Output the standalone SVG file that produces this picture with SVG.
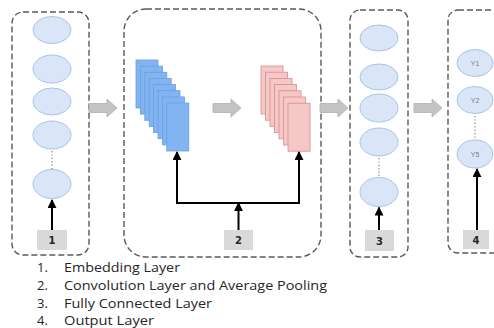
<svg xmlns="http://www.w3.org/2000/svg" width="494" height="328" viewBox="0 0 494 328">
<defs>
<style>
.box{fill:none;stroke:#595959;stroke-width:1.4;stroke-dasharray:6 3}
.node{fill:#dae6f8;stroke:#a7c2ea;stroke-width:1}
.dots{stroke:#7f7f7f;stroke-width:1.2;stroke-dasharray:1.2 2.2}
.lbl{fill:#d9d9d9}
.lt{font-family:"DejaVu Sans",sans-serif;font-size:10px;font-weight:bold;fill:#262626;text-anchor:middle}
.yt{font-family:"Liberation Sans",sans-serif;font-size:7px;fill:#7f7f7f;text-anchor:middle}
.blk{fill:none;stroke:#000;stroke-width:2}
.garr{fill:#c4c4c4;stroke:#b0b0b0;stroke-width:0.8}
.blue{fill:#82b4f2;stroke:#6a9fe0;stroke-width:0.8}
.pink{fill:#f5c8c8;stroke:#d98c8c;stroke-width:0.8}
.leg{font-family:"Open Sans",sans-serif;font-size:13px;fill:#262626}
</style>
<marker id="ah" viewBox="0 0 10 10" refX="9" refY="5" markerWidth="4.5" markerHeight="4.5" orient="auto" markerUnits="strokeWidth">
<path d="M0,0 L10,5 L0,10 z" fill="#000"/>
</marker>
<path id="ga" d="M0,-4.5 H18 V-9 L28,0 L18,9 V4.5 H0 z"/>
</defs>

<g id="layer1">
<rect class="box" x="12" y="12" width="77" height="243" rx="11"/>
<ellipse class="node" cx="52" cy="30" rx="19" ry="13.5"/>
<ellipse class="node" cx="52" cy="69" rx="19" ry="14"/>
<ellipse class="node" cx="52" cy="101.5" rx="19" ry="13.5"/>
<ellipse class="node" cx="52" cy="135" rx="19" ry="14"/>
<line class="dots" x1="52" y1="151" x2="52" y2="169"/>
<ellipse class="node" cx="52" cy="184" rx="19" ry="14.5"/>
<rect class="lbl" x="37" y="230" width="30" height="20"/>
<text class="lt" x="52" y="244">1</text>
</g>

<g id="layer2">
<rect class="box" x="124" y="9" width="197" height="248" rx="22"/>
<g id="conv">
<rect class="blue" x="136" y="60" width="22" height="48"/>
<rect class="blue" x="140.4" y="66.1" width="22" height="48"/>
<rect class="blue" x="144.8" y="72.3" width="22" height="48"/>
<rect class="blue" x="149.2" y="78.4" width="22" height="48"/>
<rect class="blue" x="153.6" y="84.6" width="22" height="48"/>
<rect class="blue" x="158" y="90.7" width="22" height="48"/>
<rect class="blue" x="162.4" y="96.9" width="22" height="48"/>
<rect class="blue" x="166.8" y="103" width="22" height="48"/>
</g>
<g id="pool">
<rect class="pink" x="261" y="66" width="22" height="48"/>
<rect class="pink" x="265.5" y="72.2" width="22" height="48"/>
<rect class="pink" x="270" y="78.4" width="22" height="48"/>
<rect class="pink" x="274.5" y="84.6" width="22" height="48"/>
<rect class="pink" x="279" y="90.8" width="22" height="48"/>
<rect class="pink" x="283.5" y="97" width="22" height="48"/>
<rect class="pink" x="288" y="103.2" width="22" height="48"/>
</g>
<rect class="lbl" x="224" y="230" width="29" height="20"/>
<text class="lt" x="238.5" y="244">2</text>
</g>

<g id="layer3">
<rect class="box" x="350" y="10" width="58" height="247" rx="10"/>
<ellipse class="node" cx="379" cy="38" rx="19" ry="13"/>
<ellipse class="node" cx="379" cy="77" rx="19" ry="13"/>
<ellipse class="node" cx="379" cy="108" rx="19" ry="14"/>
<ellipse class="node" cx="379" cy="142" rx="19" ry="14"/>
<line class="dots" x1="379" y1="158" x2="379" y2="176"/>
<ellipse class="node" cx="379" cy="192" rx="19" ry="14.5"/>
<rect class="lbl" x="365" y="230" width="29" height="21"/>
<text class="lt" x="379.5" y="244.5">3</text>
</g>

<g id="layer4">
<rect class="box" x="448" y="10" width="60" height="243" rx="10"/>
<ellipse class="node" cx="475" cy="63" rx="18" ry="13.5"/>
<text class="yt" x="475" y="65.5">Y1</text>
<ellipse class="node" cx="475" cy="100" rx="18" ry="13.5"/>
<text class="yt" x="475" y="102.5">Y2</text>
<line class="dots" x1="475" y1="116" x2="475" y2="138"/>
<ellipse class="node" cx="475" cy="154" rx="18" ry="14"/>
<text class="yt" x="475" y="156.5">Y5</text>
<rect class="lbl" x="463" y="230" width="26" height="19"/>
<text class="lt" x="476" y="244">4</text>
</g>

<g id="connectors">
<use href="#ga" class="garr" x="89" y="108"/>
<use href="#ga" class="garr" x="213" y="108"/>
<use href="#ga" class="garr" x="320" y="108"/>
<use href="#ga" class="garr" x="414" y="108"/>
<line class="blk" x1="52" y1="230" x2="52" y2="200" marker-end="url(#ah)"/>
<line class="blk" x1="238.5" y1="230" x2="238.5" y2="203" marker-end="url(#ah)"/>
<line class="blk" x1="176" y1="203" x2="300" y2="203"/>
<line class="blk" x1="177" y1="204" x2="177" y2="152" marker-end="url(#ah)"/>
<line class="blk" x1="299" y1="204" x2="299" y2="152" marker-end="url(#ah)"/>
<line class="blk" x1="379" y1="230" x2="379" y2="207.5" marker-end="url(#ah)"/>
<line class="blk" x1="477" y1="230" x2="477" y2="169" marker-end="url(#ah)"/>
</g>

<g id="legend">
<text class="leg" x="37" y="272">1.</text>
<text class="leg" x="64" y="272" textLength="116" lengthAdjust="spacingAndGlyphs">Embedding Layer</text>
<text class="leg" x="37" y="290">2.</text>
<text class="leg" x="64" y="290" textLength="263" lengthAdjust="spacingAndGlyphs">Convolution Layer and Average Pooling</text>
<text class="leg" x="37" y="307.5">3.</text>
<text class="leg" x="64" y="307.5" textLength="148" lengthAdjust="spacingAndGlyphs">Fully Connected Layer</text>
<text class="leg" x="37" y="325">4.</text>
<text class="leg" x="64" y="325" textLength="90" lengthAdjust="spacingAndGlyphs">Output Layer</text>
</g>
</svg>
